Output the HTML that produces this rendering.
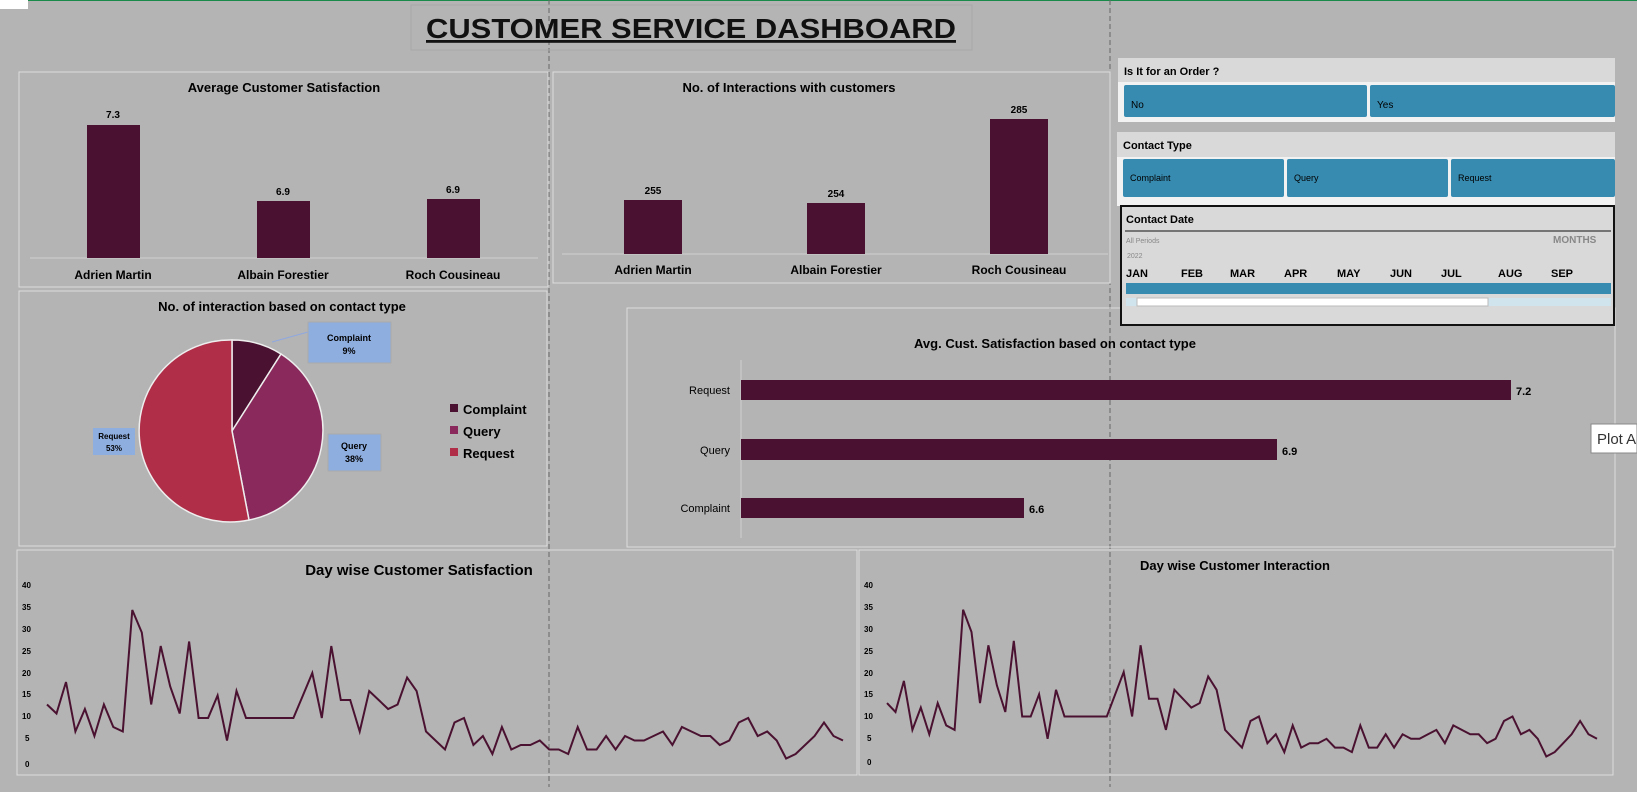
<!DOCTYPE html><html><head><meta charset="utf-8"><style>
body{margin:0;width:1637px;height:787px;background:#b4b4b4;overflow:hidden;font-family:"Liberation Sans",sans-serif}
</style></head><body>
<svg width="1637" height="787" xmlns="http://www.w3.org/2000/svg" font-family="Liberation Sans, sans-serif">
<rect width="1637" height="787" fill="#b4b4b4"/>
<line x1="0" y1="0.5" x2="1637" y2="0.5" stroke="#1a8a4a"/>
<rect x="0" y="0" width="28" height="9" fill="#fff"/>
<line x1="549" y1="0" x2="549" y2="787" stroke="#666" stroke-dasharray="5,3"/>
<line x1="1110" y1="0" x2="1110" y2="787" stroke="#666" stroke-dasharray="5,3"/>
<rect x="411" y="5" width="561" height="45" fill="none" stroke="#a8a8a8"/>
<text x="691" y="38" text-anchor="middle" font-size="28" font-weight="bold" text-decoration="underline" fill="#111" textLength="530" lengthAdjust="spacingAndGlyphs">CUSTOMER SERVICE DASHBOARD</text>
<!-- chart 1 -->
<rect x="19" y="72" width="529" height="215" fill="none" stroke="#ddd"/>
<text x="284" y="92" text-anchor="middle" font-size="13" font-weight="bold">Average Customer Satisfaction</text>
<line x1="30" y1="258" x2="538" y2="258" stroke="#d0d0d0"/>
<rect x="87" y="125" width="53" height="133" fill="#4a1230"/>
<rect x="257" y="201" width="53" height="57" fill="#4a1230"/>
<rect x="427" y="199" width="53" height="59" fill="#4a1230"/>
<g font-size="10" font-weight="bold" text-anchor="middle"><text x="113" y="118">7.3</text><text x="283" y="195">6.9</text><text x="453" y="193">6.9</text></g>
<g font-size="12" font-weight="bold" text-anchor="middle"><text x="113" y="279">Adrien Martin</text><text x="283" y="279">Albain Forestier</text><text x="453" y="279">Roch Cousineau</text></g>
<!-- chart 2 -->
<rect x="553" y="72" width="557" height="211" fill="none" stroke="#ddd"/>
<text x="789" y="92" text-anchor="middle" font-size="13" font-weight="bold">No. of Interactions with customers</text>
<line x1="562" y1="254" x2="1108" y2="254" stroke="#d0d0d0"/>
<rect x="624" y="200" width="58" height="54" fill="#4a1230"/>
<rect x="807" y="203" width="58" height="51" fill="#4a1230"/>
<rect x="990" y="119" width="58" height="135" fill="#4a1230"/>
<g font-size="10" font-weight="bold" text-anchor="middle"><text x="653" y="194">255</text><text x="836" y="197">254</text><text x="1019" y="113">285</text></g>
<g font-size="12" font-weight="bold" text-anchor="middle"><text x="653" y="274">Adrien Martin</text><text x="836" y="274">Albain Forestier</text><text x="1019" y="274">Roch Cousineau</text></g>
<!-- pie -->
<rect x="19" y="291" width="528" height="255" fill="none" stroke="#ddd"/>
<text x="282" y="311" text-anchor="middle" font-size="13" font-weight="bold">No. of interaction based on contact type</text>
<g transform="translate(232,431)" stroke="#eee" stroke-width="1.5">
<path d="M0,0 L0,-91 A91,91 0 0,1 49,-77 Z" fill="#4a1230"/>
<path d="M0,0 L49,-77 A91,91 0 0,1 17,89 Z" fill="#8a2a5c"/>
<path d="M0,0 L17,89 A91,91 0 1,1 0,-91 Z" fill="#b02e48"/>
</g>
<line x1="272" y1="342" x2="308" y2="332" stroke="#8fa8e0"/>
<rect x="308" y="322" width="83" height="41" fill="#8faee0" stroke="#aaa"/>
<text x="349" y="341" text-anchor="middle" font-size="9" font-weight="bold">Complaint</text><text x="349" y="354" text-anchor="middle" font-size="9" font-weight="bold">9%</text>
<rect x="328" y="434" width="53" height="37" fill="#8faee0" stroke="#aaa"/>
<text x="354" y="449" text-anchor="middle" font-size="9" font-weight="bold">Query</text><text x="354" y="462" text-anchor="middle" font-size="9" font-weight="bold">38%</text>
<rect x="93" y="428" width="42" height="27" fill="#8faee0"/>
<text x="114" y="439" text-anchor="middle" font-size="8" font-weight="bold">Request</text><text x="114" y="451" text-anchor="middle" font-size="8" font-weight="bold">53%</text>
<g font-size="13" font-weight="bold"><rect x="450" y="404" width="8" height="8" fill="#4a1230"/><text x="463" y="414">Complaint</text>
<rect x="450" y="426" width="8" height="8" fill="#8a2a5c"/><text x="463" y="436">Query</text>
<rect x="450" y="448" width="8" height="8" fill="#b02e48"/><text x="463" y="458">Request</text></g>
<!-- hbar -->
<rect x="627" y="308" width="988" height="239" fill="none" stroke="#ddd"/>
<text x="1055" y="348" text-anchor="middle" font-size="13" font-weight="bold">Avg. Cust. Satisfaction based on contact type</text>
<line x1="741" y1="360" x2="741" y2="538" stroke="#d0d0d0"/>
<rect x="741" y="380" width="770" height="20" fill="#4a1230"/>
<rect x="741" y="439" width="536" height="21" fill="#4a1230"/>
<rect x="741" y="498" width="283" height="20" fill="#4a1230"/>
<g font-size="11" font-weight="bold"><text x="1516" y="395">7.2</text><text x="1282" y="455">6.9</text><text x="1029" y="513">6.6</text></g>
<g font-size="11" text-anchor="end"><text x="730" y="394">Request</text><text x="730" y="454">Query</text><text x="730" y="512">Complaint</text></g>
<rect x="1591" y="424" width="46" height="29" fill="#fff" stroke="#888"/><text x="1597" y="444" font-size="15" fill="#333">Plot A</text>
<!-- slicers -->
<rect x="1118" y="58" width="497" height="64" fill="#f2f2f2"/><rect x="1118" y="58" width="497" height="24" fill="#d9d9d9"/>
<text x="1124" y="75" font-size="11" font-weight="bold">Is It for an Order ?</text>
<rect x="1124" y="85" width="243" height="32" fill="#378bb0" rx="2"/><rect x="1370" y="85" width="245" height="32" fill="#378bb0" rx="2"/>
<text x="1131" y="108" font-size="10">No</text><text x="1377" y="108" font-size="10">Yes</text>
<rect x="1117" y="132" width="498" height="74" fill="#f2f2f2"/><rect x="1117" y="132" width="498" height="25" fill="#d9d9d9"/>
<text x="1123" y="149" font-size="11" font-weight="bold">Contact Type</text>
<rect x="1123" y="159" width="161" height="38" fill="#378bb0" rx="2"/><rect x="1287" y="159" width="161" height="38" fill="#378bb0" rx="2"/><rect x="1451" y="159" width="164" height="38" fill="#378bb0" rx="2"/>
<g font-size="9"><text x="1130" y="181">Complaint</text><text x="1294" y="181">Query</text><text x="1458" y="181">Request</text></g>
<rect x="1121" y="206" width="493" height="119" fill="#d9d9d9" stroke="#111" stroke-width="2"/>
<text x="1126" y="223" font-size="11" font-weight="bold">Contact Date</text>
<line x1="1125" y1="231" x2="1611" y2="231" stroke="#111"/>
<text x="1126" y="243" font-size="7" fill="#888">All Periods</text><text x="1127" y="258" font-size="7" fill="#888">2022</text>
<text x="1553" y="243" font-size="10" font-weight="bold" fill="#888">MONTHS</text>
<g font-size="11" font-weight="bold"><text x="1126" y="277">JAN</text><text x="1181" y="277">FEB</text><text x="1230" y="277">MAR</text><text x="1284" y="277">APR</text><text x="1337" y="277">MAY</text><text x="1390" y="277">JUN</text><text x="1441" y="277">JUL</text><text x="1498" y="277">AUG</text><text x="1551" y="277">SEP</text></g>
<rect x="1126" y="283" width="485" height="11" fill="#378bb0"/>
<rect x="1126" y="298" width="485" height="8" fill="#d0e4ee"/><rect x="1137" y="298" width="351" height="8" fill="#fff" stroke="#bbb"/>
<!-- line charts -->
<rect x="17" y="550" width="840" height="225" fill="none" stroke="#ddd"/>
<rect x="859" y="550" width="754" height="225" fill="none" stroke="#ddd"/>
<text x="419" y="575" text-anchor="middle" font-size="15" font-weight="bold">Day wise Customer Satisfaction</text>
<text x="1235" y="570" text-anchor="middle" font-size="13" font-weight="bold">Day wise Customer Interaction</text>
<g font-size="8" font-weight="bold">
<text x="22" y="588">40</text><text x="22" y="610">35</text><text x="22" y="632">30</text><text x="22" y="654">25</text><text x="22" y="676">20</text><text x="22" y="697">15</text><text x="22" y="719">10</text><text x="25" y="741">5</text><text x="25" y="767">0</text>
<text x="864" y="588">40</text><text x="864" y="610">35</text><text x="864" y="632">30</text><text x="864" y="654">25</text><text x="864" y="676">20</text><text x="864" y="697">15</text><text x="864" y="719">10</text><text x="867" y="741">5</text><text x="867" y="765">0</text></g>
<polyline id="l1" fill="none" stroke="#4a1230" stroke-width="2" points=""/>
<polyline id="l2" fill="none" stroke="#4a1230" stroke-width="2" points=""/>
<script>
var d=[13,11,18,7,12,6,13,8,7,34,29,13,26,17,11,27,10,10,15,5,16,10,10,10,10,10,10,15,20,10,26,14,14,7,16,14,12,13,19,16,7,5,3,9,10,4,6,2,8,3,4,4,5,3,3,2,8,3,3,6,3,6,5,5,6,7,4,8,7,6,6,4,5,9,10,6,7,5,1,2,4,6,9,6,5];
function pts(x0,x1,y0,s){var st=(x1-x0)/(d.length-1);return d.map(function(v,i){return (x0+i*st).toFixed(1)+","+(y0-v*s).toFixed(1)}).join(" ");}
document.getElementById("l1").setAttribute("points",pts(47,843,763,4.5));
document.getElementById("l2").setAttribute("points",pts(887,1597,761,4.45));
</script>
</svg></body></html>
